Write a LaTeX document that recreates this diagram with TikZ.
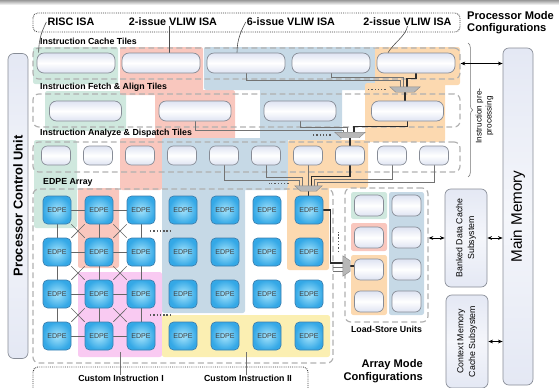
\documentclass[tikz,border=0pt]{standalone}
\usepackage{fontspec}
\setmainfont{Liberation Sans}
\usepackage{tikz}
\usetikzlibrary{arrows.meta, positioning, shapes.geometric, calc, decorations.pathreplacing}
\definecolor{cfggreen}{RGB}{207,232,222}
\definecolor{cfgred}{RGB}{249,199,190}
\definecolor{cfgblue}{RGB}{198,217,230}
\definecolor{cfgorange}{RGB}{252,217,176}
\definecolor{cfgpink}{RGB}{249,202,242}
\definecolor{cfgyellow}{RGB}{251,239,178}
\definecolor{tileedge}{RGB}{135,140,150}
\definecolor{tiletop}{RGB}{222,227,242}
\definecolor{sidefill}{RGB}{228,232,244}
\definecolor{edpein}{RGB}{165,228,252}
\definecolor{edpeout}{RGB}{52,168,230}
\definecolor{edpeedge}{RGB}{62,128,175}
\definecolor{wirecol}{RGB}{115,115,115}
\definecolor{activecol}{RGB}{45,45,45}
\definecolor{dashcol}{RGB}{176,176,176}
\newdimen\pxu
\pxu=0.03cm
\pgfdeclarelayer{regions}
\pgfdeclarelayer{wires}
\pgfsetlayers{regions,wires,main}
\tikzset{
  tierbox/.style={draw=dashcol,line width=1pt,dash pattern=on 5pt off 3pt,rounded corners=5pt,inner sep=0pt},
  tiertitle/.style={font=\fontsize{7.5}{8}\selectfont\bfseries,anchor=west,inner sep=0pt},
  cfgtitle/.style={font=\fontsize{9.5}{10.5}\selectfont\bfseries,inner sep=0pt},
  isatitle/.style={font=\fontsize{9.2}{10}\selectfont\bfseries,inner sep=0pt},
  pill/.style={draw=tileedge,line width=0.6pt,rounded corners=6pt,top color=tiletop,bottom color=tiletop,middle color=white,
    minimum width=78\pxu,minimum height=20\pxu,inner sep=0pt},
  chip/.style={pill,rounded corners=5pt,minimum width=29\pxu,minimum height=19\pxu},
  lschip/.style={chip,minimum height=21\pxu},
  edpe/.style={draw=edpeedge,line width=0.6pt,rounded corners=4pt,inner color=edpein,outer color=edpeout,
    minimum width=28\pxu,minimum height=28\pxu,inner sep=0pt,font=\fontsize{6}{6}\selectfont,text=black!75},
  sidebox/.style={draw=tileedge,line width=0.6pt,rounded corners=5pt,top color=sidefill,bottom color=sidefill,
    middle color=sidefill!40,inner sep=0pt,align=center,rotate=90},
  muxbox/.style={inner sep=0pt,minimum width=30\pxu,minimum height=5\pxu},
  muxfill/.style={fill=black!28,draw=black!45,line width=0.4pt},
  wire/.style={draw=wirecol,line width=0.5pt},
  activewire/.style={draw=activecol,line width=1.2pt},
  meshwire/.style={draw=black!60,line width=0.6pt},
  dotrow/.style={draw=black!65,line width=1.2pt,dash pattern=on 1.2pt off 1.6pt},
  dotframe/.style={draw=black!75,line width=0.8pt,dash pattern=on 0.7pt off 0.9pt,rounded corners=4pt},
  memarrow/.style={<->,>={Stealth[length=4pt,width=3.2pt]},line width=0.6pt},
  isalink/.style={draw=black!70,line width=0.5pt},
}
\begin{document}
\begin{tikzpicture}[x=0.03cm,y=-0.03cm]
  \useasboundingbox (0,0) rectangle (559,387);
  \fill[top color=black!40,bottom color=white] (0,0) rectangle (559,5);

  % configuration regions
  \begin{pgfonlayer}{regions}
    \fill[cfggreen,rounded corners=2pt] (33,47) rectangle (118,84) (45,91) rectangle (126,131) (34,140) rectangle (77,228);
    \fill[cfgred,rounded corners=2pt] (120,47) rectangle (203,95) (155,90) rectangle (235,140)
      (120,138) rectangle (162,190) (78,188) rectangle (119,268);
    \fill[cfgblue,rounded corners=2pt] (204,47) rectangle (375,90) (260,88) rectangle (342,140)
      (162,138) rectangle (288,190) (162,188) rectangle (245,313);
    \fill[cfgorange,rounded corners=2pt] (375,47) rectangle (460,85) (365,83) rectangle (445,142)
      (288,140) rectangle (368,188) (287,186) rectangle (329,270);
    \node[fill=cfgpink,rounded corners=2pt,minimum width=84\pxu,minimum height=85\pxu,inner sep=0pt] (ci1reg) at (120,314.5) {};
    \node[fill=cfgyellow,rounded corners=2pt,minimum width=168\pxu,minimum height=42\pxu,inner sep=0pt] (ci2reg) at (246,336) {};
    % load-store columns
    \fill[cfggreen,rounded corners=2pt] (351,192) rectangle (387,219);
    \fill[cfgred,rounded corners=2pt] (351,223) rectangle (387,251);
    \fill[cfgorange,rounded corners=2pt] (351,255) rectangle (387,315);
    \fill[cfgblue,rounded corners=2pt] (389,192) rectangle (424,315);
  \end{pgfonlayer}

  % ISA selection
  \draw[dotframe] (33,13) rectangle (460,32);
  \node[isatitle] (isaA) at (71,22) {RISC ISA};
  \node[isatitle] (isaB) at (173,22) {2-issue VLIW ISA};
  \node[isatitle] (isaC) at (291,22) {6-issue VLIW ISA};
  \node[isatitle] (isaD) at (407.5,22) {2-issue VLIW ISA};
  \node[cfgtitle,align=left,anchor=north west] (pmc) at (467,11) {Processor Mode\\Configurations};

  % tiles
  \node[tiertitle] (t1) at (40,41) {Instruction Cache Tiles};
  \node[tiertitle] (t2) at (40,87) {Instruction Fetch \& Align Tiles};
  \node[tiertitle] (t3) at (40,133) {Instruction Analyze \& Dispatch Tiles};
  \node[tiertitle] (t4) at (43,182) {EDPE Array};
  \foreach \k/\x in {1/76,2/161,3/246,4/331,5/416}
    \node[pill] (c\k) at (\x,63) {};
  \foreach \k/\x in {1/85.5,2/195,3/300,4/407.5}
    \node[pill,minimum width=72\pxu] (f\k) at (\x,111) {};
  \foreach \k in {1,...,10}
    \node[chip] (d\k) at ({56+42*(\k-1)},155.5) {};
  \foreach \i in {1,...,4}
    \foreach \j in {1,...,7}
      \node[edpe] (e\i\j) at ({57+42*(\j-1)},{210+42*(\i-1)}) {EDPE};
  \foreach \k/\y in {1/205.5,2/237.5,3/269.5,4/301.5} {
    \node[lschip] (ls\k) at (369,\y) {};
    \node[lschip] (lr\k) at (406.5,\y) {};
  }
  \node[font=\fontsize{7.5}{8}\selectfont\bfseries,inner sep=0pt] (lsut) at (386.5,329) {Load-Store Units};

  % multiplexers
  \node[muxbox] (mux1) at (405,89.5) {};
  \node[muxbox] (mux2) at (350,135) {};
  \node[muxbox,minimum width=27\pxu] (mux3) at (308.5,188.5) {};
  \node[muxbox,minimum width=7\pxu,minimum height=20\pxu] (mux4) at (346.5,266) {};
  \foreach \m in {mux1,mux2,mux3}
    \draw[muxfill] (\m.north west) -- (\m.north east) -- ([xshift=-6\pxu]\m.south east) -- ([xshift=6\pxu]\m.south west) -- cycle;
  \draw[muxfill] (mux4.north west) -- ([yshift=-5\pxu]mux4.north east) -- ([yshift=5\pxu]mux4.south east) -- (mux4.south west) -- cycle;

  % side blocks
  \node[sidebox,minimum width=305\pxu,minimum height=20\pxu,font=\fontsize{11}{12}\selectfont\bfseries] (pcu) at (18,206) {Processor Control Unit};
  \node[sidebox,minimum width=337\pxu,minimum height=30\pxu,font=\fontsize{13}{14}\selectfont] (mm) at (518,216.5) {Main Memory};
  \node[sidebox,minimum width=98\pxu,minimum height=42\pxu,font=\fontsize{7.5}{10}\selectfont] (bdc) at (466,238) {Banked Data Cache\\Subsystem};
  \node[sidebox,minimum width=93\pxu,minimum height=42\pxu,font=\fontsize{7.5}{10}\selectfont] (cmc) at (467,341.5) {Context Memory\\Cache Subsystem};

  % custom instructions
  \draw[dotframe] (33,367) rectangle (308,400);
  \node[tiertitle,anchor=center] (ciI) at (121,378) {Custom Instruction I};
  \node[tiertitle,anchor=center] (ciII) at (248,378) {Custom Instruction II};
  \node[cfgtitle,align=right,anchor=east] (amc) at (423,371) {Array Mode\\Configurations};

  \draw[decorate,decoration={brace,amplitude=4pt},draw=black!55,line width=0.5pt] (468,43) -- (468,177);
  \node[rotate=90,align=center,font=\fontsize{7}{8.5}\selectfont,inner sep=0pt] (prep) at (484.5,116) {Instruction pre-\\processing};

  \begin{pgfonlayer}{wires}
    \node[tierbox,minimum width=427\pxu,minimum height=31\pxu] (tier1) at (246.5,63.5) {};
    \node[tierbox,minimum width=427\pxu,minimum height=33\pxu] (tier2) at (246.5,110.5) {};
    \node[tierbox,minimum width=427\pxu,minimum height=30\pxu] (tier3) at (246.5,157) {};
    \node[tierbox,minimum width=300\pxu,minimum height=174\pxu] (array) at (183,276) {};
    \node[tierbox,minimum width=83\pxu,minimum height=134\pxu] (lsu) at (386.5,255) {};

    % ISA links
    \draw[isalink] ([xshift=-1\pxu]isaA.west) .. controls +(-4,8) and +(0,-14) .. ([xshift=2\pxu]c1.north west);
    \draw[isalink] ([xshift=8.5\pxu]c2.north) -- ([xshift=8.5\pxu]c2.north |- isaB.south);
    \draw[isalink] ([xshift=-1\pxu]isaC.west) .. controls +(-4,8) and +(0,-14) .. ([xshift=-9\pxu]c3.north);
    \draw[isalink] (isaD.south) .. controls +(-2,10) and +(6,-10) .. ([xshift=-28\pxu]c5.north);

    % cache -> fetch
    \draw[wire] (c3.south) -- ++(0,7) -| ([xshift=-5\pxu]mux1.north);
    \draw[wire] (c4.south) -- ++(0,3.5) -| ([xshift=-2\pxu]mux1.north);
    \draw[activewire] (c5.south) -- ++(0,5) -| ([xshift=2\pxu]mux1.north);
    \draw[activewire] (mux1.south) -- (mux1.south |- f4.north);
    \draw[dotrow] ([xshift=-4\pxu]mux1.west) -- ++(-18,0);

    % fetch -> dispatch
    \draw[wire] (f2.south) -- ++(0,8.5) -| ([xshift=-7\pxu]mux2.north);
    \draw[wire] (f3.south) -- ++(0,6) -| ([xshift=-3\pxu]mux2.north);
    \draw[activewire] (f4.south) -- ++(0,5) -| ([xshift=4\pxu]mux2.north);
    \draw[activewire] (mux2.south) -- (mux2.south |- d8.north);
    \draw[dotrow] ([xshift=-4\pxu]mux2.west) -- ++(-18,0);

    % dispatch -> array
    \draw[wire] (d5.south) -- ++(0,15) -| ([xshift=-9\pxu]mux3.north);
    \draw[wire] (d6.south) -- ++(0,12) -| ([xshift=-6\pxu]mux3.north);
    \draw[wire] (d7.south) -- (d7.south |- mux3.north);
    \draw[activewire] (d8.south) -- ++(0,11) -| ([xshift=3\pxu]mux3.north);
    \draw[wire] (d9.south) -- ++(0,14) -| ([xshift=6\pxu]mux3.north);
    \draw[wire] (d10.south) -- ++(0,17) -| ([xshift=9\pxu]mux3.north);
    \draw[activewire] (mux3.south) -- (mux3.south |- e17.north);
    \draw[dotrow] ([xshift=-6\pxu,yshift=5\pxu]mux3.west) -- ++(-20,0);

    % array -> load-store
    \draw[activewire] (e17.east) -- ++(7,0) |- ([yshift=3\pxu]mux4.west);
    \draw[wire] ([yshift=-1.5\pxu]mux4.west) -- ++(-10,0);
    \draw[wire] ([yshift=-5\pxu]mux4.west) -- ++(-10,0);
    \draw[dotrow] ([xshift=-4\pxu,yshift=14\pxu]mux4.west) -- ++(0,-20);
    \draw[activewire] (mux4.east) -- (mux4.east -| ls3.west);

    % EDPE mesh
    \foreach \i in {1,...,4}
      \draw[meshwire] (e\i1) -- (e\i2) -- (e\i3);
    \foreach \i/\n in {1/2,2/3,3/4} {
      \foreach \j in {1,2,3}
        \draw[meshwire] (e\i\j) -- (e\n\j);
      \draw[meshwire] (e\i1) -- (e\n2) (e\i2) -- (e\n1) (e\i2) -- (e\n3) (e\i3) -- (e\n2);
    }
    \draw[dotrow] ($(e13)!0.5!(e24)$) ++(-12,0) -- ++(20,0);
    \draw[dotrow] ($(e33)!0.5!(e44)$) ++(-12,0) -- ++(20,0);

    % custom instruction links
    \draw[wire] ([yshift=5\pxu]ci1reg.south) -- (ci1reg.south |- ciI.north);
    \draw[wire] ([yshift=5\pxu]ci2reg.south) -- (ci2reg.south |- ciII.north);
  \end{pgfonlayer}

  % memory links
  \draw[memarrow] (tier1.east) -- (tier1.east -| mm.north);
  \draw[memarrow] (lsu.east |- bdc.center) -- (bdc.north);
  \draw[memarrow] (bdc.south) -- (bdc.south -| mm.north);
  \draw[memarrow] (cmc.south) -- (cmc.south -| mm.north);
\end{tikzpicture}
\end{document}
